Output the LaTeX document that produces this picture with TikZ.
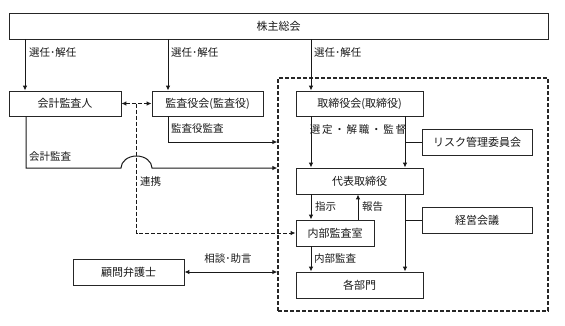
\documentclass[tikz,border=0pt]{standalone}
\usepackage{fontspec}
\setmainfont{Noto Sans CJK JP}
\usetikzlibrary{arrows.meta}
\begin{document}
\begin{tikzpicture}[x=1pt,y=-1pt,
  box/.style={draw=black!85, line width=0.8pt, fill=white, inner sep=0pt,
    font=\fontsize{11}{13}\selectfont, text=black!90},
  lbl/.style={inner sep=0pt, font=\fontsize{10.5}{12}\selectfont, text=black!90},
  ln/.style={draw=black!90, line width=1pt},
  arr/.style={ln, -{Latex[length=5pt,width=4.5pt]}},
  darr/.style={ln, {Latex[length=5pt,width=4.5pt]}-{Latex[length=5pt,width=4.5pt]}},
  dsh/.style={dash pattern=on 4pt off 2pt}
]
\useasboundingbox (0,0) rectangle (565,325);
% dashed group
\node[draw=black!85, line width=1.2pt, dsh, minimum width=270pt, minimum height=233pt, inner sep=0pt] (grp) at (413,194.5) {};
% boxes
\node[box, minimum width=539pt, minimum height=26pt] (sh) at (278.5,26) {株主総会};
\node[box, minimum width=112pt, minimum height=25pt] (kaikei) at (65,103.5) {会計監査人};
\node[box, minimum width=111pt, minimum height=25pt] (kansa) at (207.5,103.5) {監査役会(監査役)};
\node[box, minimum width=127pt, minimum height=25pt] (tori) at (359.5,103.5) {取締役会(取締役)};
\node[box, minimum width=110pt, minimum height=26pt] (risk) at (477,142) {リスク管理委員会};
\node[box, minimum width=127pt, minimum height=26pt] (daihyo) at (359.5,181) {代表取締役};
\node[box, minimum width=110pt, minimum height=26pt] (keiei) at (477,220) {経営会議};
\node[box, minimum width=78pt, minimum height=26pt] (naibu) at (335,233) {内部監査室};
\node[box, minimum width=127pt, minimum height=26pt] (kakubu) at (359.5,285) {各部門};
\node[box, minimum width=111pt, minimum height=26pt] (komon) at (128.5,272) {顧問弁護士};
% x positions
\coordinate (x0) at (26,0);
\coordinate (x1) at (25,0);
\coordinate (x2) at (168,0);
\coordinate (x3) at (311,0);
\coordinate (x4) at (405,0);
\coordinate (x5) at (358,0);
\coordinate (xr) at (136.5,0);
\coordinate (y1) at (0,142);
\coordinate (y2) at (0,168);
% top arrows
\draw[arr] (sh.south -| x1) -- (kaikei.north -| x1);
\draw[arr] (sh.south -| x2) -- (kansa.north -| x2);
\draw[arr] (sh.south -| x3) -- (tori.north -| x3);
\node[lbl, anchor=west] (l1) at (29,53) {選任･解任};
\node[lbl, anchor=west] (l2) at (171,53) {選任･解任};
\node[lbl, anchor=west] (l3) at (314,53) {選任･解任};
% board to representative
\draw[arr] (tori.south -| x3) -- (daihyo.north -| x3);
\draw[arr] (tori.south -| x4) -- (daihyo.north -| x4);
\draw[ln] (risk.west) -- (risk.west -| x4);
\node[lbl] (l4) at (358,130) {選\,定\,・\,解\,職\,・\,監\,督};
% representative down
\draw[arr] (daihyo.south -| x3) -- (naibu.north -| x3);
\draw[arr] (naibu.north -| x5) -- (daihyo.south -| x5);
\draw[arr] (daihyo.south -| x4) -- (kakubu.north -| x4);
\draw[ln] (keiei.west) -- (keiei.west -| x4);
\draw[arr] (naibu.south -| x3) -- (kakubu.north -| x3);
\node[lbl, anchor=west] (l5) at (315,207) {指示};
\node[lbl, anchor=west] (l6) at (362,207) {報告};
\node[lbl, anchor=west] (l7) at (314,259) {内部監査};
% audit lines
\draw[arr] (kansa.south -| x2) |- (grp.west |- y1);
\node[lbl, anchor=west] (l8) at (171,129) {監査役監査};
\draw[arr] (kaikei.south -| x0) -- (x0 |- y2) -- (121,168)
  .. controls (121,161.4) and (128,156) .. (136.5,156)
  .. controls (145,156) and (152,161.4) .. (152,168) -- (grp.west |- y2);
\node[lbl, anchor=west] (l9) at (29,157) {会計監査};
% cooperation
\draw[ln, dsh, {Latex[length=5pt,width=4.5pt]}-{Latex[length=5pt,width=4.5pt]}] (kaikei.east) -- (kansa.west);
\draw[ln, dsh, -{Latex[length=5pt,width=4.5pt]}] (xr |- kaikei.east) |- (naibu.west);
\node[lbl, anchor=west] (l10) at (140,182) {連携};
% lawyer
\draw[darr] (komon.east) -- (grp.west |- komon.east);
\node[lbl] (l11) at (228,259) {相談･助言};
\end{tikzpicture}
\end{document}
